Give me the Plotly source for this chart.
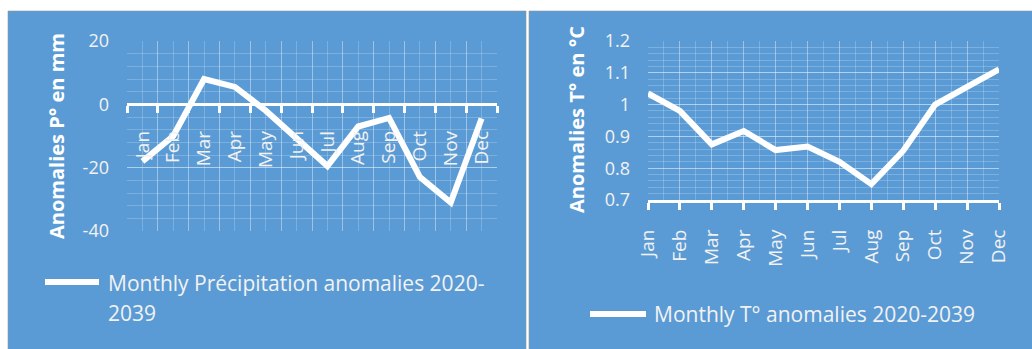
import plotly.graph_objects as go

# ---- data ----
months = ["Jan", "Feb", "Mar", "Apr", "May", "Jun", "Jul", "Aug", "Sep", "Oct", "Nov", "Dec"]
precip_anom = [-18, -10, 8, 5.5, -2, -11, -19.5, -7, -4.3, -23, -31, -4.5]
temp_anom = [1.035, 0.98, 0.875, 0.917, 0.857, 0.868, 0.82, 0.75, 0.855, 1.0, 1.056, 1.111]
precip_name = "Monthly Précipitation anomalies 2020-2039"
temp_name = "Monthly T° anomalies 2020-2039"
precip_yticks = [20, 0, -20, -40]
temp_yticks = [0.7, 0.8, 0.9, 1.0, 1.1, 1.2]
temp_yticktext = ["0.7", "0.8", "0.9", "1", "1.1", "1.2"]
precip_ytitle = "Anomalies P° en mm"
temp_ytitle = "Anomalies T° en °C"

W, H = 1032, 349
PANEL = "#5B9BD5"
FONT = "Open Sans"
TICKCOL = "#F2F2F2"
GRID_MAJ = "rgba(255,255,255,0.4)"
GRID_MIN = "rgba(255,255,255,0.2)"


def px(x):
    return x / W


def py(y):
    return 1 - y / H


x_idx = list(range(len(months)))

fig = go.Figure()
fig.add_trace(go.Scatter(x=x_idx, y=precip_anom, mode="lines", name=precip_name,
                         line=dict(color="white", width=6), xaxis="x", yaxis="y",
                         showlegend=False))
fig.add_trace(go.Scatter(x=x_idx, y=temp_anom, mode="lines", name=temp_name,
                         line=dict(color="white", width=6), xaxis="x2", yaxis="y2",
                         showlegend=False))

# left subplot geometry: category axis crosses the value axis at 0
ydom1 = [py(231), py(41)]
yr1 = [-40, 20]
zero_pos = ydom1[0] + (0 - yr1[0]) / (yr1[1] - yr1[0]) * (ydom1[1] - ydom1[0])

tickfont = dict(family=FONT, size=18, color=TICKCOL)
catfont = dict(family=FONT, size=19, color=TICKCOL)

fig.update_layout(
    width=W, height=H,
    margin=dict(l=0, r=0, t=0, b=0, pad=0, autoexpand=False),
    paper_bgcolor="white",
    plot_bgcolor="rgba(0,0,0,0)",
    showlegend=False,
    xaxis=dict(
        domain=[px(127), px(497)], range=[-0.5, len(months) - 0.5],
        anchor="free", position=zero_pos, automargin=False,
        tickmode="array", tickvals=x_idx, ticktext=months,
        tickangle=-90, tickfont=catfont, ticks="", ticklabelstandoff=17,
        showgrid=True, gridcolor=GRID_MIN, gridwidth=1,
        minor=dict(tickmode="linear", tick0=-0.5, dtick=1, ticks="outside",
                   ticklen=7, tickwidth=2.5, tickcolor="white",
                   showgrid=True, gridcolor=GRID_MAJ, gridwidth=1),
        showline=True, linecolor="white", linewidth=3, zeroline=False,
    ),
    yaxis=dict(
        domain=ydom1, range=yr1, anchor="x", automargin=False,
        tickmode="array", tickvals=precip_yticks, ticktext=[str(v) for v in precip_yticks],
        tickfont=tickfont, ticks="", ticklabelstandoff=17,
        showgrid=True, gridcolor=GRID_MAJ, gridwidth=1,
        minor=dict(dtick=4, showgrid=True, gridcolor=GRID_MIN, gridwidth=1),
        showline=False, zeroline=False,
    ),
    xaxis2=dict(
        domain=[px(648), px(999)], range=[0, len(months) - 1], anchor="y2", automargin=False,
        tickmode="array", tickvals=x_idx, ticktext=months,
        tickangle=-90, tickfont=catfont, ticks="outside", ticklen=7, tickwidth=2.5,
        tickcolor="white", ticklabelstandoff=12,
        showgrid=True, gridcolor=GRID_MAJ, gridwidth=1,
        minor=dict(tickmode="linear", tick0=0.5, dtick=1, showgrid=True,
                   gridcolor=GRID_MIN, gridwidth=1),
        showline=True, linecolor="white", linewidth=3, zeroline=False,
    ),
    yaxis2=dict(
        domain=[py(200), py(41)], range=[0.7, 1.2], anchor="x2", automargin=False,
        tickmode="array", tickvals=temp_yticks, ticktext=temp_yticktext,
        tickfont=tickfont, ticks="", ticklabelstandoff=17,
        showgrid=True, gridcolor=GRID_MAJ, gridwidth=1,
        minor=dict(dtick=0.02, showgrid=True, gridcolor=GRID_MIN, gridwidth=1),
        showline=False, zeroline=False,
    ),
)

# chart panels
for x0, x1 in [(8, 526), (529, 1040)]:
    fig.add_shape(type="rect", xref="paper", yref="paper", layer="below",
                  x0=px(x0), x1=px(x1), y0=-0.05, y1=py(11),
                  fillcolor=PANEL, line=dict(color="rgba(150,150,150,0.6)", width=1))

# axis titles
titlefont = dict(family=FONT, size=20, color="white", weight="bold")
fig.add_annotation(xref="paper", yref="paper", x=px(56), y=py(136), text=precip_ytitle,
                   textangle=-90, showarrow=False, font=titlefont,
                   xanchor="center", yanchor="middle")
fig.add_annotation(xref="paper", yref="paper", x=px(577), y=py(120), text=temp_ytitle,
                   textangle=-90, showarrow=False, font=titlefont,
                   xanchor="center", yanchor="middle")

# legends
legfont = dict(family=FONT, size=21, color=TICKCOL)
fig.add_shape(type="line", xref="paper", yref="paper", x0=px(45), x1=px(99),
              y0=py(282), y1=py(282), line=dict(color="white", width=6))
first, second = precip_name.split("2020-")
fig.add_annotation(xref="paper", yref="paper", x=px(106), y=py(283),
                   text=first + "2020-", showarrow=False, font=legfont,
                   xanchor="left", yanchor="middle")
fig.add_annotation(xref="paper", yref="paper", x=px(106), y=py(313),
                   text=second, showarrow=False, font=legfont,
                   xanchor="left", yanchor="middle")

fig.add_shape(type="line", xref="paper", yref="paper", x0=px(590), x1=px(646),
              y0=py(314), y1=py(314), line=dict(color="white", width=6))
fig.add_annotation(xref="paper", yref="paper", x=px(652), y=py(314),
                   text=temp_name, showarrow=False, font=legfont,
                   xanchor="left", yanchor="middle")

fig.write_html("out.html")
